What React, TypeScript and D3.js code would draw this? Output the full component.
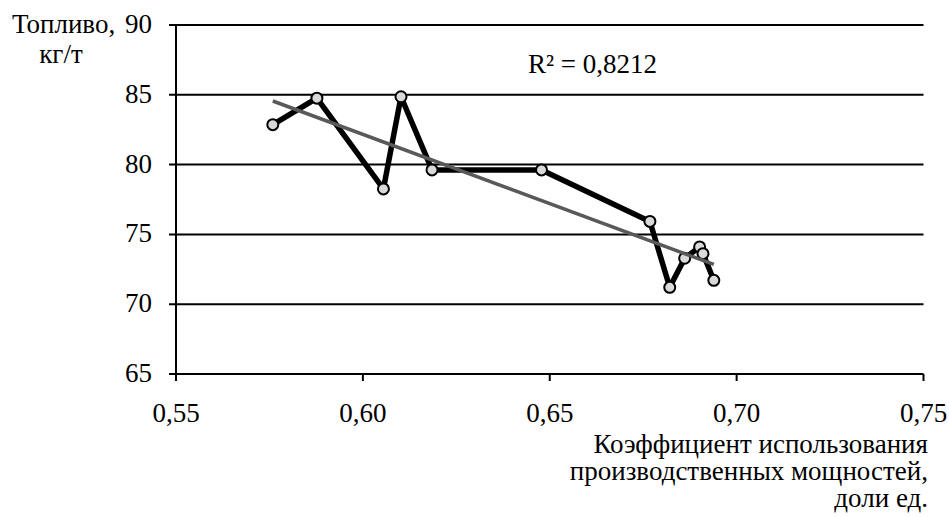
import React from "react";
import * as d3 from "d3";

const xValues = [0.5759, 0.5877, 0.6055, 0.6102, 0.6185, 0.6478, 0.6768, 0.6821, 0.6861, 0.6901, 0.691, 0.6939];
const yValues = [82.86, 84.76, 78.26, 84.86, 79.62, 79.62, 75.93, 71.21, 73.29, 74.1, 73.62, 71.71];
const xTicks = [0.55, 0.6, 0.65, 0.7, 0.75];
const yTicks = [65, 70, 75, 80, 85, 90];
const yTitle = ["Топливо,", "кг/т"];
const xTitle = ["Коэффициент использования", "производственных мощностей,", "доли ед."];
const r2Label = "R² = 0,8212";

const W = 949;
const H = 517;
const left = 176;
const right = 923.5;
const top = 25;
const bottom = 374;
const font = "'Liberation Serif', 'Times New Roman', serif";
const fs = 27;

export default function App() {
  const x = d3.scaleLinear().domain([0.55, 0.75]).range([left, right]);
  const y = d3.scaleLinear().domain([65, 90]).range([bottom, top]);
  const pts = xValues.map((v, i) => [v, yValues[i]] as [number, number]);
  const line = d3
    .line<[number, number]>()
    .x((d) => x(d[0]))
    .y((d) => y(d[1]));

  const mx = d3.mean(xValues)!;
  const my = d3.mean(yValues)!;
  const sxy = d3.sum(pts, (d) => (d[0] - mx) * (d[1] - my));
  const sxx = d3.sum(xValues, (v) => (v - mx) * (v - mx));
  const slope = sxy / sxx;
  const icpt = my - slope * mx;
  const [x0, x1] = d3.extent(xValues) as [number, number];
  const trend: [number, number][] = [
    [x0, icpt + slope * x0],
    [x1, icpt + slope * x1],
  ];

  const fmt = (v: number) => v.toFixed(2).replace(".", ",");

  return (
    <svg
      width={W}
      height={H}
      style={{ position: "absolute", left: 0, top: 0, background: "#fff" }}
      fontFamily={font}
      fontSize={fs}
    >
      <rect width={W} height={H} fill="#fff" />
      {yTicks.map((t) => (
        <g key={t}>
          <line x1={left - 7} x2={right} y1={y(t)} y2={y(t)} stroke="#000" strokeWidth={2} />
          <text x={152} y={y(t) + 8} textAnchor="end" fill="#000">
            {t}
          </text>
        </g>
      ))}
      <line x1={left} x2={left} y1={top} y2={bottom + 7} stroke="#000" strokeWidth={2} />
      {xTicks.map((t) => (
        <g key={t}>
          <line x1={x(t)} x2={x(t)} y1={bottom} y2={bottom + 7} stroke="#000" strokeWidth={2} />
          <text x={x(t)} y={421.5} textAnchor="middle" fill="#000">
            {fmt(t)}
          </text>
        </g>
      ))}
      <path d={line(pts)!} fill="none" stroke="#000" strokeWidth={5.5} strokeLinejoin="round" />
      {pts.map((d, i) => (
        <circle key={i} cx={x(d[0])} cy={y(d[1])} r={5.5} fill="#d9d9d9" stroke="#000" strokeWidth={2} />
      ))}
      <path d={line(trend)!} fill="none" stroke="#595959" strokeWidth={3.5} />
      <text x={528} y={73} fill="#000">
        {r2Label}
      </text>
      <text x={12} y={33} fill="#000">
        {yTitle[0]}
      </text>
      <text x={61} y={63} textAnchor="middle" fill="#000">
        {yTitle[1]}
      </text>
      {xTitle.map((s, i) => (
        <text key={i} x={928} y={453 + i * 27} textAnchor="end" fill="#000">
          {s}
        </text>
      ))}
    </svg>
  );
}
